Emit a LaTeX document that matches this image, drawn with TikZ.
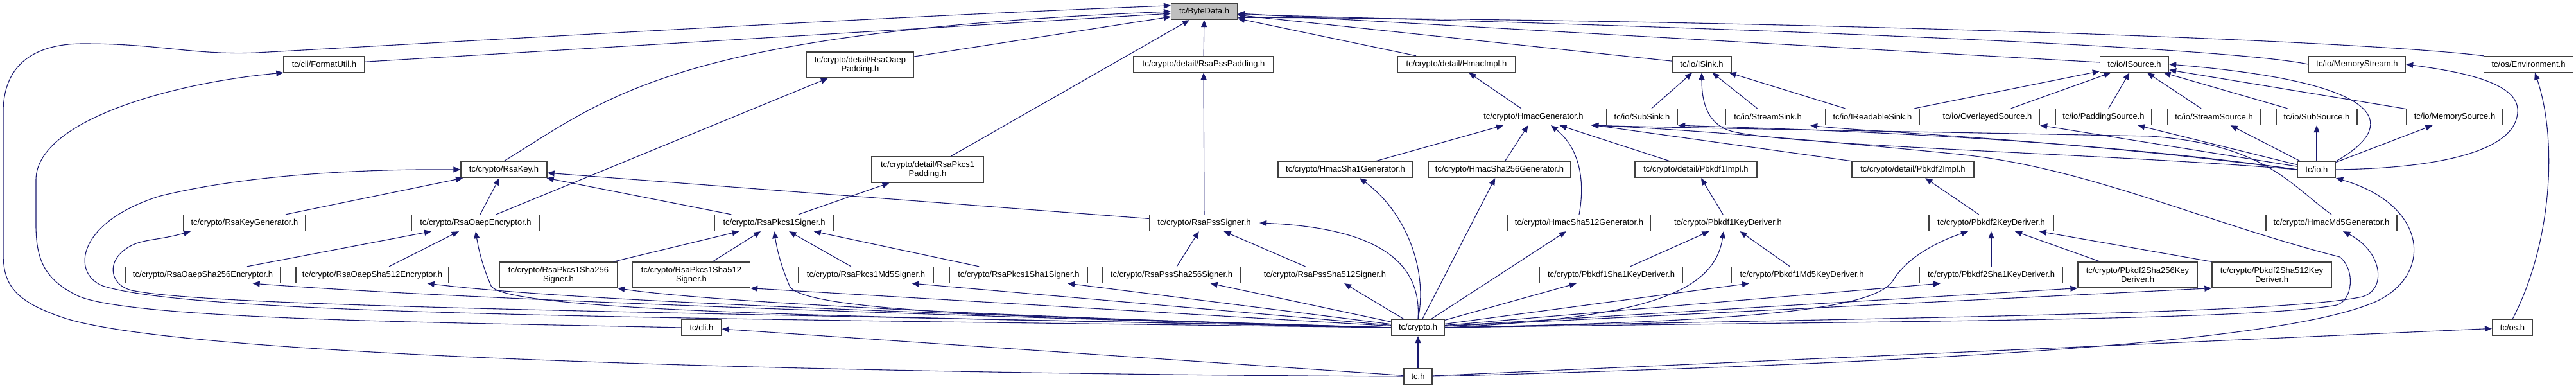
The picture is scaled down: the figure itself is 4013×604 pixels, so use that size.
\documentclass[tikz,border=0pt]{standalone}
\usepackage{fontspec}
\setmainfont{Liberation Sans}
\usepackage{xcolor}
\usepackage{tikz}
\usetikzlibrary{arrows.meta}
\definecolor{linkblue}{HTML}{191970}
\definecolor{boxline}{HTML}{404040}
\definecolor{shade}{HTML}{BFBFBF}
\tikzset{
  hdr/.style={rectangle, draw=boxline, fill=white, line width=1.3pt, inner sep=0pt,
              minimum height=25pt, align=center, font=\fontsize{13}{14}\selectfont},
  hdrtwo/.style={hdr, minimum height=40pt},
  selhdr/.style={hdr, fill=shade},
  inc/.style={-{Triangle[length=11pt,width=9pt]}, draw=linkblue, line width=1.1pt},
}

\begin{document}
\begin{tikzpicture}[x=1pt, y=-1pt]
\useasboundingbox (0,0) rectangle (4013,604);
\node[selhdr, minimum width=103] (bytedata) at (1876,18) {tc/ByteData.h};
\node[hdr, minimum width=126] (formatutil) at (505,100) {tc/cli/FormatUtil.h};
\node[hdrtwo, minimum width=167] (oaeppad) at (1340,101) {tc/crypto/detail/RsaOaep\\Padding.h};
\node[hdr, minimum width=218] (psspad) at (1875,100) {tc/crypto/detail/RsaPssPadding.h};
\node[hdr, minimum width=183] (hmacimpl) at (2269,100) {tc/crypto/detail/HmacImpl.h};
\node[hdr, minimum width=92] (isink) at (2651,100) {tc/io/ISink.h};
\node[hdr, minimum width=107] (isource) at (3325,100) {tc/io/ISource.h};
\node[hdr, minimum width=151] (memstream) at (3672,100) {tc/io/MemoryStream.h};
\node[hdr, minimum width=139] (environ) at (3939,100) {tc/os/Environment.h};
\node[hdr, minimum width=179] (hmacgen) at (2389,182) {tc/crypto/HmacGenerator.h};
\node[hdr, minimum width=111] (subsink) at (2558,182) {tc/io/SubSink.h};
\node[hdr, minimum width=131] (streamsink) at (2754,182) {tc/io/StreamSink.h};
\node[hdr, minimum width=147] (readsink) at (2917,182) {tc/io/IReadableSink.h};
\node[hdr, minimum width=163] (overlaysrc) at (3096,182) {tc/io/OverlayedSource.h};
\node[hdr, minimum width=150] (paddingsrc) at (3277,182) {tc/io/PaddingSource.h};
\node[hdr, minimum width=145] (streamsrc) at (3449,182) {tc/io/StreamSource.h};
\node[hdr, minimum width=126] (subsrc) at (3609,182) {tc/io/SubSource.h};
\node[hdr, minimum width=150] (memsrc) at (3824,182) {tc/io/MemorySource.h};
\node[hdr, minimum width=134] (rsakey) at (785,264) {tc/crypto/RsaKey.h};
\node[hdrtwo, minimum width=174] (pkcs1pad) at (1445,264) {tc/crypto/detail/RsaPkcs1\\Padding.h};
\node[hdr, minimum width=210] (hmacsha1) at (2096,264) {tc/crypto/HmacSha1Generator.h};
\node[hdr, minimum width=222] (hmacsha256) at (2336,264) {tc/crypto/HmacSha256Generator.h};
\node[hdr, minimum width=190] (pbkdf1impl) at (2642,264) {tc/crypto/detail/Pbkdf1Impl.h};
\node[hdr, minimum width=190] (pbkdf2impl) at (2980,264) {tc/crypto/detail/Pbkdf2Impl.h};
\node[hdr, minimum width=59] (ioh) at (3609,264) {tc/io.h};
\node[hdr, minimum width=190] (keygen) at (381,347) {tc/crypto/RsaKeyGenerator.h};
\node[hdr, minimum width=200] (oaepenc) at (741,347) {tc/crypto/RsaOaepEncryptor.h};
\node[hdr, minimum width=185] (pkcs1signer) at (1206,347) {tc/crypto/RsaPkcs1Signer.h};
\node[hdr, minimum width=171] (psssigner) at (1876,347) {tc/crypto/RsaPssSigner.h};
\node[hdr, minimum width=222] (hmacsha512) at (2460,347) {tc/crypto/HmacSha512Generator.h};
\node[hdr, minimum width=193] (pbkdf1kd) at (2692,347) {tc/crypto/Pbkdf1KeyDeriver.h};
\node[hdr, minimum width=194] (pbkdf2kd) at (3102,347) {tc/crypto/Pbkdf2KeyDeriver.h};
\node[hdr, minimum width=204] (hmacmd5) at (3632,347) {tc/crypto/HmacMd5Generator.h};
\node[hdr, minimum width=242] (oaep256) at (316,428) {tc/crypto/RsaOaepSha256Encryptor.h};
\node[hdr, minimum width=238] (oaep512) at (580,428) {tc/crypto/RsaOaepSha512Encryptor.h};
\node[hdrtwo, minimum width=183] (pkcs1sha256) at (870,428) {tc/crypto/RsaPkcs1Sha256\\Signer.h};
\node[hdrtwo, minimum width=183] (pkcs1sha512) at (1077,428) {tc/crypto/RsaPkcs1Sha512\\Signer.h};
\node[hdr, minimum width=210] (pkcs1md5) at (1349,428) {tc/crypto/RsaPkcs1Md5Signer.h};
\node[hdr, minimum width=215] (pkcs1sha1) at (1587,428) {tc/crypto/RsaPkcs1Sha1Signer.h};
\node[hdr, minimum width=216] (pss256) at (1825,428) {tc/crypto/RsaPssSha256Signer.h};
\node[hdr, minimum width=215] (pss512) at (2064,428) {tc/crypto/RsaPssSha512Signer.h};
\node[hdr, minimum width=223] (pbkdf1sha1) at (2510,428) {tc/crypto/Pbkdf1Sha1KeyDeriver.h};
\node[hdr, minimum width=219] (pbkdf1md5) at (2807,428) {tc/crypto/Pbkdf1Md5KeyDeriver.h};
\node[hdr, minimum width=223] (pbkdf2sha1) at (3102,428) {tc/crypto/Pbkdf2Sha1KeyDeriver.h};
\node[hdrtwo, minimum width=186] (pbkdf2sha256) at (3330,428) {tc/crypto/Pbkdf2Sha256Key\\Deriver.h};
\node[hdrtwo, minimum width=186] (pbkdf2sha512) at (3539,428) {tc/crypto/Pbkdf2Sha512Key\\Deriver.h};
\node[hdr, minimum width=62] (clih) at (1093,510) {tc/cli.h};
\node[hdr, minimum width=83] (cryptoh) at (2209,510) {tc/crypto.h};
\node[hdr, minimum width=63] (osh) at (3914,510) {tc/os.h};
\node[hdr, minimum width=44] (tch) at (2209,586) {tc.h};

\draw[inc] (formatutil) -- (bytedata);
\draw[inc] (oaeppad) -- (bytedata);
\draw[inc] (pkcs1pad) -- (bytedata);
\draw[inc] (psspad) -- (bytedata);
\draw[inc] (hmacimpl) -- (bytedata);
\draw[inc] (isink) -- (bytedata);
\draw[inc] (isource) -- (bytedata);
\draw[inc] (memstream.west) .. controls (3450,70) and (2600,40) .. (bytedata.-5);
\draw[inc] (environ.north west) .. controls (3650,60) and (2700,30) .. (bytedata.-10);
\draw[inc] (rsakey.north) .. controls (950,150) and (1050,50) .. (bytedata.west);
\draw[inc] (tch.west) .. controls (1400,582) and (300,560) .. (100,495) .. controls (25,470) and (5,445) .. (5,395) -- (5,175) .. controls (5,95) and (60,68) .. (130,68) .. controls (250,68) and (300,86) .. (400,82) .. controls (800,60) and (1400,25) .. (bytedata.170);
\draw[inc] (clih.west) .. controls (700,502) and (200,498) .. (120,460) .. controls (70,435) and (56,405) .. (56,350) -- (56,280) .. controls (56,190) and (260,130) .. (formatutil.south west);
\draw[inc] (tch) -- (clih);
\draw[inc] (tch) -- (cryptoh);
\draw[inc] (tch) -- (osh);
\draw[inc] (tch.east) .. controls (3000,565) and (3550,535) .. (3700,470) .. controls (3790,430) and (3785,320) .. (ioh.south east);
\draw[inc] (osh.north) .. controls (3975,380) and (3985,220) .. ([xshift=10]environ.south);

\draw[inc] (keygen) -- (rsakey);
\draw[inc] (oaepenc) -- (rsakey);
\draw[inc] (oaepenc) -- (oaeppad);
\draw[inc] (pkcs1signer) -- (rsakey);
\draw[inc] (pkcs1signer) -- (pkcs1pad);
\draw[inc] (psssigner) -- (rsakey);
\draw[inc] (psssigner) -- (psspad);
\draw[inc] (oaep256) -- (oaepenc);
\draw[inc] (oaep512) -- (oaepenc);
\draw[inc] (pkcs1sha256) -- (pkcs1signer);
\draw[inc] (pkcs1sha512) -- (pkcs1signer);
\draw[inc] (pkcs1md5) -- (pkcs1signer);
\draw[inc] (pkcs1sha1) -- (pkcs1signer);
\draw[inc] (pss256) -- (psssigner);
\draw[inc] (pss512) -- (psssigner);

\draw[inc] (hmacgen) -- (hmacimpl);
\draw[inc] (hmacsha1) -- (hmacgen);
\draw[inc] (hmacsha256) -- (hmacgen);
\draw[inc] (hmacsha512.north) .. controls (2470,280) and (2460,230) .. ([xshift=27]hmacgen.south);
\draw[inc] (pbkdf1impl) -- (hmacgen);
\draw[inc] (pbkdf2impl) -- (hmacgen);
\draw[inc] (hmacmd5.north) .. controls (3570,290) and (3530,225) .. (3350,212) .. controls (3000,205) and (2650,200) .. (hmacgen.south east);
\draw[inc] (pbkdf1kd) -- (pbkdf1impl);
\draw[inc] (pbkdf2kd) -- (pbkdf2impl);
\draw[inc] (pbkdf1sha1) -- (pbkdf1kd);
\draw[inc] (pbkdf1md5) -- (pbkdf1kd);
\draw[inc] (pbkdf2sha1) -- (pbkdf2kd);
\draw[inc] (pbkdf2sha256) -- (pbkdf2kd);
\draw[inc] (pbkdf2sha512.north west) -- (pbkdf2kd);

\draw[inc] (subsink) -- (isink);
\draw[inc] (streamsink) -- (isink);
\draw[inc] (readsink) -- (isink);
\draw[inc] (readsink) -- (isource);
\draw[inc] (overlaysrc) -- (isource);
\draw[inc] (paddingsrc) -- (isource);
\draw[inc] (streamsrc) -- (isource);
\draw[inc] (subsrc) -- (isource);
\draw[inc] (memsrc) -- (isource);
\draw[inc] (ioh.north east) .. controls (3730,200) and (3740,130) .. (isource.east);
\draw[inc] (ioh.west) .. controls (3300,240) and (2800,228) .. (2700,205) .. controls (2660,195) and (2651,160) .. (isink.south);
\draw[inc] (ioh.west) .. controls (3200,210) and (2750,200) .. (subsink.south east);
\draw[inc] (ioh.west) .. controls (3200,215) and (2900,205) .. (streamsink.south east);
\draw[inc] (ioh) -- (overlaysrc);
\draw[inc] (ioh) -- (paddingsrc);
\draw[inc] (ioh) -- (streamsrc);
\draw[inc] (ioh) -- (subsrc);
\draw[inc] (ioh) -- (memsrc);
\draw[inc] (ioh.east) .. controls (3800,262) and (3925,235) .. (3922,170) .. controls (3920,125) and (3820,110) .. (memstream.east);

\draw[inc] (cryptoh.west) .. controls (1000,495) and (300,490) .. (160,445) .. controls (110,425) and (120,345) .. (250,305) .. controls (400,268) and (600,263) .. (rsakey.west);
\draw[inc] (cryptoh.west) .. controls (1000,485) and (330,478) .. (205,452) .. controls (165,442) and (165,395) .. (215,378) .. controls (235,372) and (255,372) .. ([xshift=-84]keygen.south);
\draw[inc] (cryptoh.west) .. controls (1500,495) and (790,490) .. (765,445) .. controls (750,410) and (745,385) .. (oaepenc.south);
\draw[inc] (cryptoh.west) .. controls (1700,495) and (1250,490) .. (1230,445) .. controls (1215,410) and (1210,385) .. (pkcs1signer.south);
\draw[inc] (cryptoh.west) .. controls (1400,490) and (700,465) .. ([xshift=-44]oaep256.south east);
\draw[inc] (cryptoh.west) .. controls (1500,490) and (900,470) .. ([xshift=-34]oaep512.south east);
\draw[inc] (cryptoh.west) .. controls (1600,495) and (1100,470) .. (pkcs1sha256.south east);
\draw[inc] (cryptoh) -- (pkcs1sha512.south east);
\draw[inc] (cryptoh) -- ([xshift=-34]pkcs1md5.south east);
\draw[inc] (cryptoh) -- ([xshift=-32]pkcs1sha1.south east);
\draw[inc] (cryptoh) -- ([xshift=-48]pss256.south east);
\draw[inc] (cryptoh) -- ([xshift=-78]pss512.south east);
\draw[inc] (cryptoh.north) .. controls (2215,410) and (2150,355) .. (psssigner.east);
\draw[inc] (cryptoh.north) .. controls (2225,420) and (2190,330) .. ([xshift=22]hmacsha1.south);
\draw[inc] (cryptoh) -- (hmacsha256);
\draw[inc] (cryptoh) -- (hmacsha512);
\draw[inc] (cryptoh.east) .. controls (2900,500) and (3500,500) .. (3640,475) .. controls (3665,468) and (3670,420) .. (3645,400) .. controls (3430,345) and (3250,260) .. (3050,240) .. controls (2800,215) and (2600,200) .. (hmacgen.south east);
\draw[inc] (cryptoh.east) .. controls (2900,495) and (3550,490) .. (3680,462) .. controls (3720,450) and (3710,390) .. ([xshift=18]hmacmd5.south);
\draw[inc] (cryptoh.east) .. controls (2550,495) and (2670,460) .. ([xshift=-7]pbkdf1kd.south);
\draw[inc] (cryptoh) -- ([xshift=58]pbkdf1sha1.south west);
\draw[inc] (cryptoh) -- ([xshift=28]pbkdf1md5.south west);
\draw[inc] (cryptoh.east) .. controls (2750,500) and (2925,480) .. (2950,435) .. controls (2975,395) and (3030,372) .. ([xshift=-36]pbkdf2kd.south);
\draw[inc] (cryptoh) -- ([xshift=33]pbkdf2sha1.south west);
\draw[inc] (cryptoh) -- (pbkdf2sha256.south west);
\draw[inc] (cryptoh) -- (pbkdf2sha512.south west);
\end{tikzpicture}
\end{document}
